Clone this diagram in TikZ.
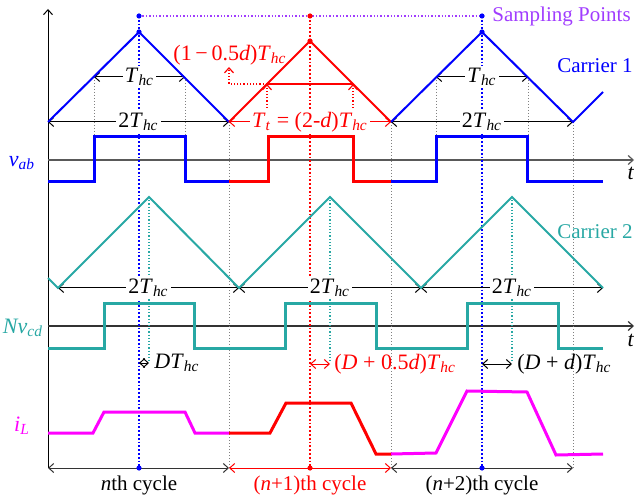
\documentclass[tikz,border=0pt]{standalone}
\usepackage{fontspec}
\setmainfont{Liberation Serif}
\usetikzlibrary{arrows.meta}
\definecolor{cteal}{RGB}{40,168,164}
\definecolor{cviolet}{RGB}{160,60,255}
\definecolor{cmag}{RGB}{255,0,255}
\newcommand{\Thc}{\textit{T}\textsubscript{\textit{hc}}}
\begin{document}
\begin{tikzpicture}[x=0.5pt, y=-0.5pt, >={Straight Barb[length=2.5pt,width=4.5pt]},
  lab/.style={font=\fontsize{11}{13}\selectfont, inner sep=1pt},
  wlab/.style={lab, fill=white},
  txt/.style={font=\fontsize{10.5}{12}\selectfont, inner sep=1pt},
  carrier/.style={line width=1pt},
  pulse/.style={line width=1.5pt},
  guide/.style={gray, densely dotted, line width=0.5pt},
  sampline/.style={densely dotted, line width=0.9pt},
  dim/.style={<->, line width=0.5pt}]
\useasboundingbox (0,0) rectangle (636,496);
% axes
\draw[->, line width=0.5pt] (48,468) -- (48,9);
\draw[->, gray!70!black, line width=0.6pt] (48,160) -- (634,160);
\draw[->, gray!40!black, line width=0.6pt] (48,326) -- (634,326);
\node[lab] (t1) at (631,173) {\textit{t}};
\node[lab] (t2) at (631,340) {\textit{t}};
\node[lab, blue] (vab) at (22,163) {\textit{v}\textsubscript{\textit{ab}}};
\node[lab, cteal] (nvcd) at (23,328) {\textit{Nv}\textsubscript{\textit{cd}}};
\node[lab, cmag] (il) at (22,426) {\textit{i}\textsubscript{\textit{L}}};
% sampling points
\coordinate (s1) at (139,16);
\coordinate (s2) at (310,16);
\coordinate (s3) at (482,16);
\coordinate (b1) at (139,468);
\coordinate (b2) at (310,468);
\coordinate (b3) at (482,468);
\draw[cviolet, densely dotted, line width=0.7pt] (s1) -- (s3);
\draw[blue, sampline] (s1) -- (b1);
\draw[red, sampline] (s2) -- (b2);
\draw[blue, sampline] (s3) -- (b3);
\node[txt, cviolet, anchor=west] (sp) at (490,16) {Sampling Points};
% guides
\draw[guide] (94,77) -- (94,137);
\draw[guide] (185,77) -- (185,137);
\draw[guide] (436,77) -- (436,137);
\draw[guide] (528,77) -- (528,137);
\draw[guide] (229,122) -- (229,468);
\draw[guide] (391,122) -- (391,468);
\draw[guide] (573,122) -- (573,468);
\draw[cteal, densely dotted, line width=0.6pt] (149,197) -- (149,363);
\draw[cteal, densely dotted, line width=0.6pt] (330,197) -- (330,363);
\draw[cteal, densely dotted, line width=0.6pt] (512,197) -- (512,363);
% carrier 1 dimensions
\draw[dim] (94,77) -- (185,77) node[wlab, midway] (thc1) {\Thc};
\draw[dim] (436,77) -- (528,77) node[wlab, midway] (thc3) {\Thc};
\draw[dim] (48,122) -- (229,122) node[wlab, midway] (tp1) {2\Thc};
\draw[dim, red] (229,122) -- (391,122) node[wlab, midway] (tt) {\textit{T}\textsubscript{\textit{t}} = (2-\textit{d})\Thc};
\draw[dim] (391,122) -- (573,122) node[wlab, midway] (tp3) {2\Thc};
\draw[red, line width=0.6pt] (267,84) -- (353,84);
\draw[red, densely dotted, ->, line width=0.6pt] (267,108) -- (267,84);
\draw[red, densely dotted, ->, line width=0.6pt] (353,108) -- (353,84);
\draw[red, densely dotted, ->, line width=0.6pt] (267,84) -- (229,84) -- (229,67);
\node[lab, red] (half) at (230,55) {(1\,−\,0.5\textit{d})\Thc};
% carrier 1
\draw[blue, carrier] (48,122) -- (139,32) -- (229,122);
\draw[red, carrier] (229,122) -- (310,41) -- (391,122);
\draw[blue, carrier] (391,122) -- (482,32) -- (573,122) -- (603,92);
\node[txt, blue] (c1) at (595,66) {Carrier 1};
% v_ab
\draw[blue, pulse] (48,182) -- (94,182) -- (94,137) -- (185,137) -- (185,182) -- (229,182);
\draw[red, pulse] (229,182) -- (268,182) -- (268,137) -- (353,137) -- (353,182) -- (391,182);
\draw[blue, pulse] (391,182) -- (436,182) -- (436,137) -- (527,137) -- (527,182) -- (603,182);
% carrier 2
\draw[dim] (58,288) -- (239,288) node[wlab, midway] (tq1) {2\Thc};
\draw[dim] (239,288) -- (421,288) node[wlab, midway] (tq2) {2\Thc};
\draw[dim] (421,288) -- (603,288) node[wlab, midway] (tq3) {2\Thc};
\draw[cteal, carrier] (48,278) -- (58,288) -- (149,197) -- (239,288) -- (330,197)
  -- (421,288) -- (512,197) -- (603,288);
\node[txt, cteal] (c2) at (595,232) {Carrier 2};
% Nv_cd
\draw[cteal, pulse] (48,348) -- (104,348) -- (104,304) -- (194,304) -- (194,348) -- (285,348)
  -- (285,304) -- (376,304) -- (376,348) -- (467,348) -- (467,304) -- (558,304) -- (558,348) -- (603,348);
\draw[dim] (139,363) -- (149,363);
\node[lab, anchor=west] (dt) at (152,363) {\textit{D}\Thc};
\draw[dim, red] (310,364) -- (330,364);
\node[lab, red, anchor=west] (dt2) at (332,364) {(\textit{D} + 0.5\textit{d})\Thc};
\draw[dim] (482,364) -- (512,364);
\node[lab, anchor=west] (dt3) at (515,364) {(\textit{D} + \textit{d})\Thc};
% i_L
\draw[cmag, pulse] (48,433) -- (93,433) -- (104,412) -- (185,412) -- (195,433) -- (229,433);
\draw[red, pulse] (229,433) -- (270,433) -- (286,403) -- (351,403) -- (376,454) -- (391,454);
\draw[cmag, pulse] (391,454) -- (436,453) -- (467,391) -- (527,392) -- (556,455) -- (603,454);
% cycles
\draw[dim, gray!40!black] (48,468) -- (229,468);
\draw[dim, red] (229,468) -- (391,468);
\draw[dim, gray!40!black] (391,468) -- (573,468);
\node[txt] (n0) at (139,485) {\textit{n}th cycle};
\node[txt, red] (n1) at (310,485) {(\textit{n}+1)th cycle};
\node[txt] (n2) at (482,485) {(\textit{n}+2)th cycle};
% dots
\foreach \p/\c in {s1/blue, s2/red, s3/blue, b1/blue, b2/red, b3/blue}
  \fill[\c] (\p) circle (1.3pt);
\fill[blue] (139,32) circle (1.3pt);
\fill[red] (310,41) circle (1.3pt);
\fill[blue] (482,32) circle (1.3pt);
\end{tikzpicture}
\end{document}
